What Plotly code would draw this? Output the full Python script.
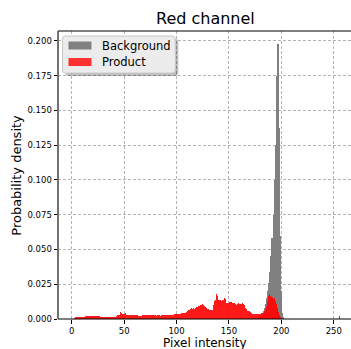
import plotly.graph_objects as go

# Histogram bins (pixel intensity, bin left edge)
product_bins = list(range(0, 201)) + [255]
product_density = [
    0, 0, 0.0008, 0.0012, 0.0012, 0.0012, 0.0012, 0.0012, 0.0012, 0.0012,
    0.0012, 0.0012, 0.0012, 0.0019, 0.0020, 0.0020, 0.0021, 0.0020, 0.0020, 0.0021,
    0.0020, 0.0020, 0.0021, 0.0020, 0.0020, 0.0019, 0.0020, 0.0018, 0.0012, 0.0012,
    0.0012, 0.0011, 0.0012, 0.0012, 0.0012, 0.0012, 0.0011, 0.0012, 0.0012, 0.0013,
    0.0014, 0.0016, 0.0024, 0.0026, 0.0028, 0.0030, 0.0052, 0.0040, 0.0035, 0.0034,
    0.0038, 0.0043, 0.0032, 0.0030, 0.0031, 0.0030, 0.0029, 0.0030, 0.0031, 0.0030,
    0.0029, 0.0028, 0.0027, 0.0022, 0.0021, 0.0022, 0.0024, 0.0029, 0.0030, 0.0031,
    0.0030, 0.0031, 0.0030, 0.0029, 0.0031, 0.0030, 0.0030, 0.0029, 0.0028, 0.0026,
    0.0025, 0.0026, 0.0027, 0.0026, 0.0025, 0.0026, 0.0027, 0.0026, 0.0027, 0.0028,
    0.0027, 0.0028, 0.0030, 0.0031, 0.0030, 0.0029, 0.0030, 0.0032, 0.0033, 0.0034,
    0.0034, 0.0035, 0.0034, 0.0036, 0.0042, 0.0044, 0.0043, 0.0045, 0.0046, 0.0048,
    0.0060, 0.0064, 0.0062, 0.0070, 0.0078, 0.0072, 0.0076, 0.0074, 0.0080, 0.0084,
    0.0090, 0.0096, 0.0099, 0.0102, 0.0108, 0.0100, 0.0090, 0.0086, 0.0082, 0.0072,
    0.0070, 0.0066, 0.0062, 0.0063, 0.0065, 0.0098, 0.0126, 0.0136, 0.0178, 0.0168,
    0.0140, 0.0136, 0.0132, 0.0134, 0.0137, 0.0148, 0.0145, 0.0116, 0.0114, 0.0118,
    0.0124, 0.0122, 0.0120, 0.0116, 0.0112, 0.0114, 0.0106, 0.0104, 0.0108, 0.0112,
    0.0110, 0.0108, 0.0112, 0.0106, 0.0104, 0.0076, 0.0074, 0.0060, 0.0058, 0.0056,
    0.0050, 0.0042, 0.0036, 0.0034, 0.0033, 0.0034, 0.0033, 0.0034, 0.0034, 0.0035,
    0.0036, 0.0040, 0.0044, 0.0055, 0.0070, 0.0095, 0.0130, 0.0165, 0.0180, 0.0168,
    0.0155, 0.0160, 0.0142, 0.0150, 0.0128, 0.0110, 0.0080, 0.0050, 0.0030, 0.0015,
    0.0008,
    0.0020,
]

background_bins = list(range(178, 202))
background_density = [
    0.001, 0.0015, 0.002, 0.003, 0.004, 0.006, 0.008, 0.011, 0.015, 0.020,
    0.026, 0.034, 0.045, 0.058, 0.075, 0.100, 0.125, 0.175, 0.198, 0.137,
    0.060, 0.020, 0.004, 0.001,
]

series_names = ["Background", "Product"]
series_colors = ["#808080", "rgba(255,0,0,0.9)"]
legend_colors = ["#808080", "#ff3030"]

x_ticks = [0, 50, 100, 150, 200, 250]
y_ticks = [0.0, 0.025, 0.05, 0.075, 0.1, 0.125, 0.15, 0.175, 0.2]

chart_title = "Red channel"
x_title = "Pixel intensity"
y_title = "Probability density"

FONT = "DejaVu Sans"
W, H = 351, 349
L, R, T, B = 57.5, 0, 31, 30.3
PW, PH = W - L - R, H - T - B


def px(x):
    return (x - L) / PW


def py(y):
    return (H - B - y) / PH


fig = go.Figure()
fig.add_trace(go.Bar(
    x=[b + 0.5 for b in background_bins], y=background_density, width=1.0,
    name=series_names[0], marker=dict(color=series_colors[0], line=dict(width=0)),
    showlegend=False,
))
fig.add_trace(go.Bar(
    x=[b + 0.5 for b in product_bins], y=product_density, width=1.0,
    name=series_names[1], marker=dict(color=series_colors[1], line=dict(width=0)),
    showlegend=False,
))

shapes = []
annotations = []


def rounded(x0, y0, x1, y1, r):
    X0, X1 = px(x0), px(x1)
    Y0, Y1 = py(y0), py(y1)
    rx, ry = r / PW, r / PH
    return (f"M{X0 + rx},{Y0} L{X1 - rx},{Y0} Q{X1},{Y0} {X1},{Y0 - ry} "
            f"L{X1},{Y1 + ry} Q{X1},{Y1} {X1 - rx},{Y1} L{X0 + rx},{Y1} "
            f"Q{X0},{Y1} {X0},{Y1 + ry} L{X0},{Y0 - ry} Q{X0},{Y0} {X0 + rx},{Y0} Z")


# legend shadow + box
shapes.append(dict(type="path", xref="paper", yref="paper",
                   path=rounded(65, 39, 178, 76, 3),
                   fillcolor="rgba(0,0,0,0.25)", line=dict(width=0)))
shapes.append(dict(type="path", xref="paper", yref="paper",
                   path=rounded(62, 36, 175, 73, 3),
                   fillcolor="#ececec", line=dict(color="#c8c8c8", width=1)))
for i, (name, col) in enumerate(zip(series_names, legend_colors)):
    yc = 45.5 + 16.5 * i
    shapes.append(dict(type="rect", xref="paper", yref="paper",
                       x0=px(68), x1=px(91), y0=py(yc - 4), y1=py(yc + 4),
                       fillcolor=col, line=dict(width=0)))
    annotations.append(dict(x=px(100), y=py(yc), xref="paper", yref="paper",
                            text=name, showarrow=False, xanchor="left", yanchor="middle",
                            font=dict(size=11.5, family=FONT, color="black")))

# spines (top, bottom, left)
shapes.append(dict(type="line", xref="paper", yref="paper", x0=0, x1=1, y0=1, y1=1,
                   line=dict(color="black", width=1.2)))
shapes.append(dict(type="line", xref="paper", yref="paper", x0=0, x1=1, y0=0, y1=0,
                   line=dict(color="black", width=1.2)))
shapes.append(dict(type="line", xref="paper", yref="paper", x0=0, x1=0, y0=0, y1=1,
                   line=dict(color="#444444", width=1.5)))

# titles as text annotations
annotations.append(dict(x=px(205), y=py(19), xref="paper", yref="paper", text=chart_title,
                        showarrow=False, xanchor="center", yanchor="middle",
                        font=dict(size=16, family=FONT, color="black")))
annotations.append(dict(x=px(205), y=py(342.5), xref="paper", yref="paper", text=x_title,
                        showarrow=False, xanchor="center", yanchor="middle",
                        font=dict(size=12, family=FONT, color="black")))
annotations.append(dict(x=px(16), y=py(175), xref="paper", yref="paper", text=y_title,
                        showarrow=False, xanchor="center", yanchor="middle", textangle=-90,
                        font=dict(size=13, family=FONT, color="black")))

fig.update_layout(
    width=W, height=H,
    margin=dict(l=L, r=R, t=T, b=B, autoexpand=False),
    paper_bgcolor="white", plot_bgcolor="white",
    barmode="overlay", bargap=0,
    font=dict(family=FONT, color="black"),
    showlegend=False,
    shapes=shapes,
    annotations=annotations,
)

fig.update_xaxes(
    range=[-13.1, 266.4], tickvals=x_ticks, ticktext=[str(t) for t in x_ticks],
    showgrid=True, gridcolor="#b4b4b4", griddash="3px,2px", gridwidth=0.8,
    showline=False,
    ticks="outside", ticklen=3.5, tickcolor="black", tickwidth=0.8,
    tickfont=dict(size=8.5, family=FONT, color="black"),
    zeroline=False, automargin=False,
)
fig.update_yaxes(
    range=[0, 0.207], tickvals=y_ticks, ticktext=[f"{t:.3f}" for t in y_ticks],
    showgrid=True, gridcolor="#b4b4b4", griddash="3px,2px", gridwidth=0.8,
    showline=False,
    ticks="outside", ticklen=3.5, tickcolor="black", tickwidth=0.8,
    tickfont=dict(size=8.5, family=FONT, color="black"),
    zeroline=False, automargin=False,
)

fig.write_html("out.html")
